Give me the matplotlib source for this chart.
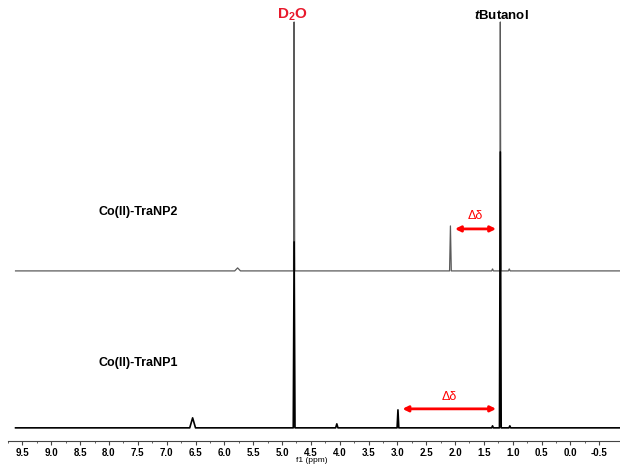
import numpy as np
import matplotlib
matplotlib.use("Agg")
import matplotlib.pyplot as plt

plt.rcParams['font.family'] = ['Liberation Sans', 'DejaVu Sans']
plt.rcParams['mathtext.fontset'] = 'custom'
plt.rcParams['mathtext.rm'] = 'Liberation Sans:bold'
plt.rcParams['mathtext.it'] = 'Liberation Sans:bold:italic'
plt.rcParams['mathtext.bf'] = 'Liberation Sans:bold'

# spectrum points (ppm, intensity above own baseline)
np1_ppm = [9.62, 6.60, 6.55, 6.50, 4.805, 4.79, 4.775, 4.07, 4.05, 4.03,
           3.005, 2.99, 2.975, 1.365, 1.35, 1.335, 1.23, 1.215, 1.20,
           1.065, 1.05, 1.035, -0.86]
np1_int = [0, 0, 10, 0, 0, 186, 0, 0, 4, 0,
           0, 18, 0, 0, 2, 0, 0, 276, 0,
           0, 2, 0, 0]

np2_ppm = [9.62, 5.82, 5.77, 5.72, 4.80, 4.79, 4.78, 2.095, 2.08, 2.065,
           1.365, 1.35, 1.335, 1.225, 1.215, 1.205, 1.075, 1.06, 1.045, -0.86]
np2_int = [0, 0, 3, 0, 0, 249, 0, 0, 45, 0,
           0, 2, 0, 0, 249, 0, 0, 2, 0, 0]

np2_offset = 157
shift_np2 = (2.07, 1.22)
shift_np1 = (2.98, 1.22)
ticks = np.arange(-0.5, 9.51, 0.5)

fig = plt.figure(figsize=(6.2, 4.67), dpi=100)
ax = fig.add_axes([0.013, 0.056, 0.987, 0.944])

# upper spectrum first (grey), lower one drawn over it
ax.plot(np2_ppm, np.array(np2_int) + np2_offset, color='#5a5a5a', lw=0.9, zorder=2)
ax.plot(np1_ppm, np1_int, color='black', lw=1.2, zorder=3)

ax.set_xlim(9.62, -0.86)
ax.set_ylim(-13, 428)

# delta-delta arrows
ax.annotate('', xy=(shift_np2[0] - 0.02, 199), xytext=(shift_np2[1] + 0.02, 199),
            arrowprops=dict(arrowstyle='<|-|>', color='red', lw=2, mutation_scale=8))
ax.text(sum(shift_np2) / 2, 206, 'Δδ', color='red', fontsize=9, ha='center', va='bottom')
ax.annotate('', xy=(shift_np1[0] - 0.02, 19), xytext=(shift_np1[1] + 0.02, 19),
            arrowprops=dict(arrowstyle='<|-|>', color='red', lw=2, mutation_scale=8))
ax.text(sum(shift_np1) / 2, 25, 'Δδ', color='red', fontsize=9, ha='center', va='bottom')

# labels
ax.text(7.49, 216, 'Co(II)-TraNP2', fontsize=9, fontweight='bold', ha='center', va='center')
ax.text(7.49, 65, 'Co(II)-TraNP1', fontsize=9, fontweight='bold', ha='center', va='center')
ax.text(4.82, 405, r'D$_2$O', color='#e8192c', fontsize=11, fontweight='bold',
        ha='center', va='bottom')
ax.text(1.2, 406, r'$\mathit{t}$Butanol', fontsize=9.5, fontweight='bold',
        ha='center', va='bottom')

# axis styling
for s in ['left', 'right', 'top']:
    ax.spines[s].set_visible(False)
ax.spines['bottom'].set_color('#444444')
ax.spines['bottom'].set_linewidth(0.8)
ax.set_yticks([])
ax.set_xticks(ticks)
ax.set_xticklabels(['%.1f' % t for t in ticks])
ax.set_xticks(ticks + 0.25, minor=True)
ax.tick_params(axis='x', which='major', length=3, width=0.8, color='#444444',
               labelsize=7, pad=2)
ax.tick_params(axis='x', which='minor', length=1.5, width=0.6, color='#444444')
for lab in ax.get_xticklabels():
    lab.set_fontweight('bold')
ax.set_xlabel('f1 (ppm)', fontsize=6)
ax.xaxis.set_label_coords(0.497, -0.036)

fig.savefig('out.png', dpi=100)
